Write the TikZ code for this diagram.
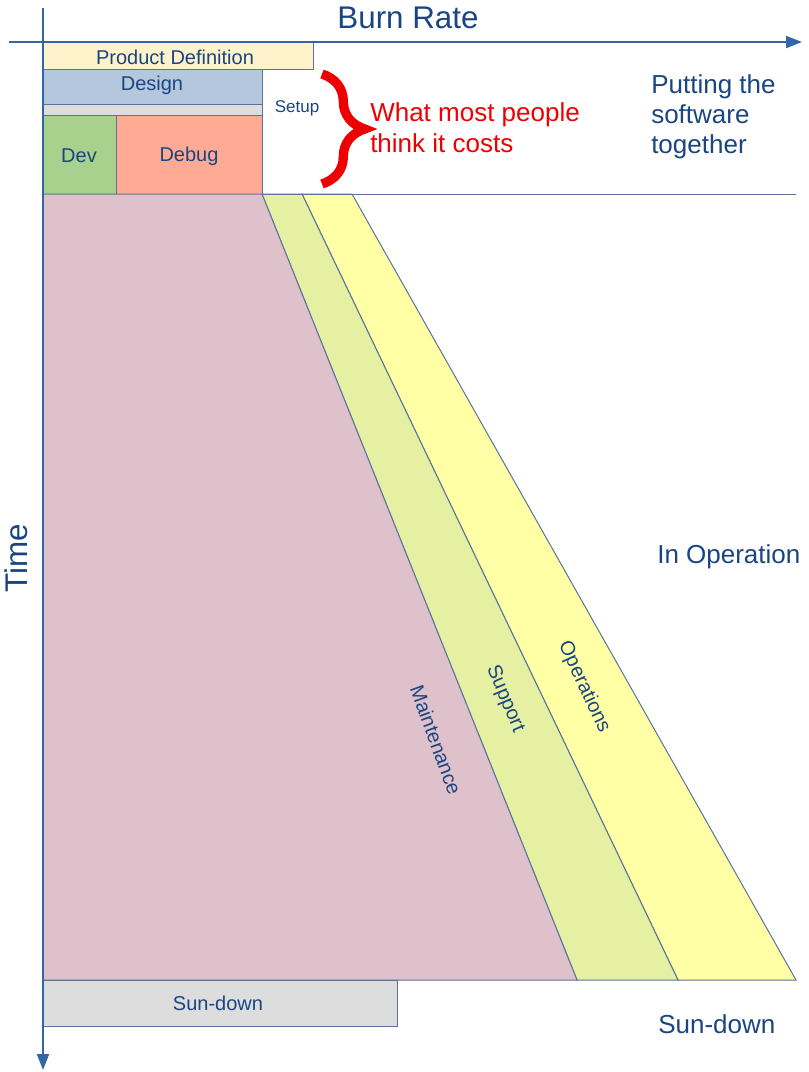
\documentclass[tikz,border=0pt]{standalone}
\usepackage{fontspec}
\setmainfont{Liberation Sans}
\usetikzlibrary{arrows.meta,decorations.pathreplacing}
\definecolor{axisblue}{RGB}{52,101,164}
\definecolor{edge}{RGB}{90,115,155}
\definecolor{txt}{RGB}{25,70,130}
\definecolor{pdfill}{RGB}{255,243,204}
\definecolor{desfill}{RGB}{180,199,220}
\definecolor{grayfill}{RGB}{221,221,221}
\definecolor{devfill}{RGB}{169,209,142}
\definecolor{dbgfill}{RGB}{255,170,149}
\definecolor{mntfill}{RGB}{223,193,203}
\definecolor{supfill}{RGB}{230,240,163}
\definecolor{opsfill}{RGB}{255,255,166}
\definecolor{bracered}{RGB}{238,0,0}
\tikzset{
  box/.style={draw=edge, line width=0.75pt},
  lbl/.style={text=txt, font=\fontsize{15pt}{18pt}\selectfont, inner sep=0pt},
  big/.style={text=txt, font=\fontsize{23.5pt}{28pt}\selectfont, inner sep=0pt},
  side/.style={text=txt, font=\fontsize{19.5pt}{22.5pt}\selectfont, inner sep=0pt, anchor=west, align=left},
  axisline/.style={draw=axisblue, line width=1.5pt, -{Triangle[length=12pt,width=9pt]}}
}
\begin{document}
\begin{tikzpicture}[x=0.75pt,y=-0.75pt]
\useasboundingbox (0,0) rectangle (808,1072);
% top boxes
\draw[box, fill=pdfill] (43,42) rectangle (313,69);
\node[lbl] (pd) at (175,57) {Product Definition};
\draw[box, fill=desfill] (43,69) rectangle (262,104);
\node[lbl] (des) at (152,85) {Design};
\draw[box, fill=grayfill] (43,104) rectangle (262,115);
\draw[box, fill=devfill] (43,115) rectangle (116,194);
\node[lbl] (dev) at (79,156) {Dev};
\draw[box, fill=dbgfill] (116,115) rectangle (262,194);
\node[lbl] (dbg) at (189,156) {Debug};
\node[text=txt, font=\fontsize{12.75pt}{15pt}\selectfont, inner sep=0pt] (setup) at (297,108) {Setup};
% brace
\draw[bracered, line width=7pt, decorate, decoration={brace, amplitude=32}] (322,74) -- (322,184);
\node[text=bracered, font=\fontsize{19.5pt}{23.25pt}\selectfont, inner sep=0pt, anchor=west, align=left] (cost) at (370,128) {What most people\\think it costs};
% operation regions
\draw[box, fill=opsfill] (302,194) -- (352,194) -- (796,980) -- (678,980) -- cycle;
\draw[box, fill=supfill] (262,194) -- (302,194) -- (678,980) -- (577,980) -- cycle;
\draw[box, fill=mntfill] (43,194) -- (262,194) -- (577,980) -- (43,980) -- cycle;
\draw[box] (262,194) -- (796,194);
\node[lbl, rotate=-70] (mnt) at (436,740) {Maintenance};
\node[lbl, rotate=-67] (sup) at (505,699) {Support};
\node[lbl, rotate=-65] (ops) at (584,687) {Operations};
% sun-down box
\draw[box, fill=grayfill] (43,980) rectangle (397,1026);
\node[lbl] (sd) at (218,1003) {Sun-down};
% axes
\draw[axisline] (43,8) -- (43,1070);
\draw[axisline] (9,42) -- (802,42);
\node[big] (burn) at (408,18) {Burn Rate};
\node[big, rotate=90] (time) at (16,558) {Time};
% side labels
\node[side] (put) at (651,117) {Putting the\\software\\together};
\node[side] (inop) at (657,557) {In Operation};
\node[side] (sdr) at (658,1024) {Sun-down};
\end{tikzpicture}
\end{document}
